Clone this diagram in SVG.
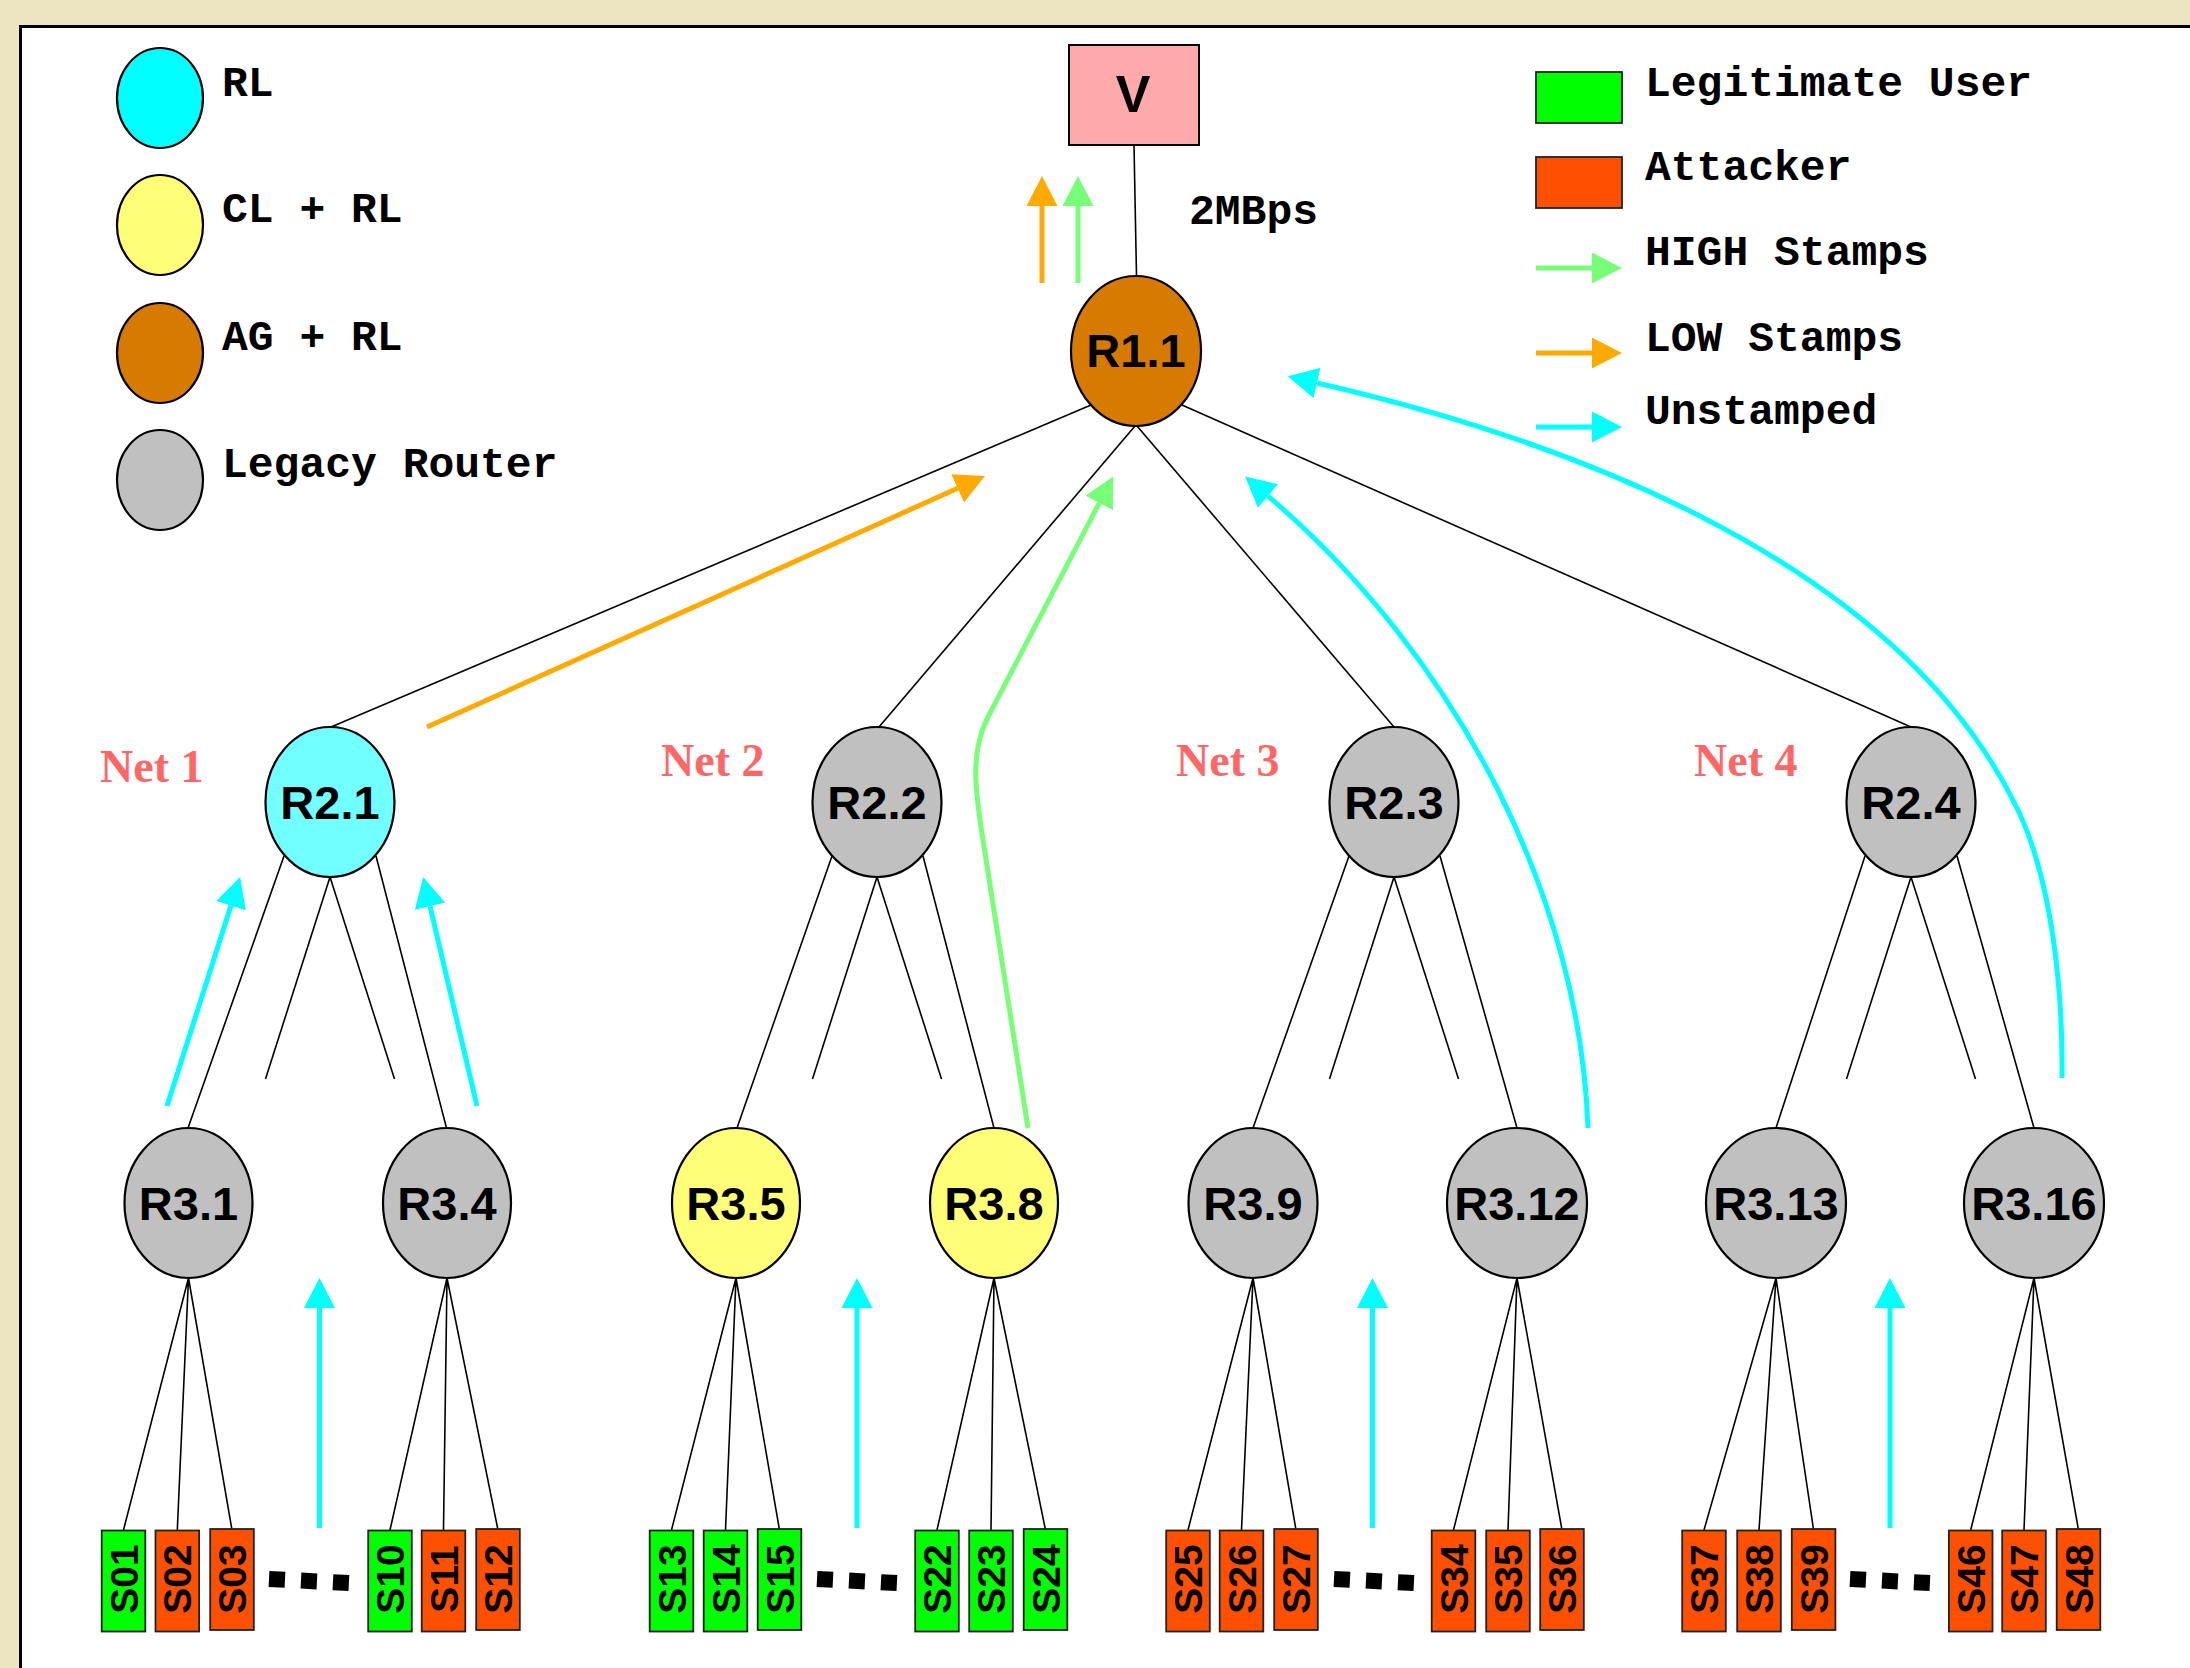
<svg xmlns="http://www.w3.org/2000/svg" width="2190" height="1668" viewBox="0 0 2190 1668">
<style>
.edge{stroke:#000;stroke-width:1.6;fill:none}
.nd{stroke:#000;stroke-width:2.2}
.gray{fill:#C0C0C0}.yel{fill:#FFFF77}.cyn{fill:#72FFFF}.brn{fill:#D67A00}
.lbl{font-family:"Liberation Sans",Arial,sans-serif;font-weight:bold;font-size:47px;text-anchor:middle;fill:#000}
.leg{font-family:"Liberation Mono","Courier New",monospace;font-weight:bold;font-size:43px;fill:#000}
.net{font-family:"Liberation Serif","Times New Roman",serif;font-weight:bold;font-size:46px;fill:#FF6666}
.box{stroke:#222;stroke-width:1.8}
.leg-g{fill:#00FF00}.leg-r{fill:#FF5000}
.lt{font-family:"Liberation Sans",Arial,sans-serif;font-weight:bold;font-size:39px;text-anchor:middle;fill:#000}
.ac{stroke:#00FFFF;stroke-width:5;fill:none}
.ag{stroke:#77FF77;stroke-width:5;fill:none}
.ao{stroke:#FFAA00;stroke-width:5;fill:none}
.dots{stroke:#000;stroke-width:16;stroke-dasharray:16 16;fill:none}
</style>
<defs>
<marker id="hc" markerUnits="userSpaceOnUse" viewBox="0 0 30 31" markerWidth="30" markerHeight="31" refX="0" refY="15.5" orient="auto"><path d="M0,0 L30,15.5 L0,31 z" fill="#00FFFF"/></marker>
<marker id="hg" markerUnits="userSpaceOnUse" viewBox="0 0 30 31" markerWidth="30" markerHeight="31" refX="0" refY="15.5" orient="auto"><path d="M0,0 L30,15.5 L0,31 z" fill="#77FF77"/></marker>
<marker id="ho" markerUnits="userSpaceOnUse" viewBox="0 0 30 31" markerWidth="30" markerHeight="31" refX="0" refY="15.5" orient="auto"><path d="M0,0 L30,15.5 L0,31 z" fill="#FFAA00"/></marker>
</defs>
<rect x="0" y="0" width="2190" height="1668" fill="#EDE4C2"/>
<rect x="20.5" y="26.5" width="2200" height="1700" fill="#FFFFFF" stroke="#000" stroke-width="3"/>

<g id="legend">
<ellipse class="nd" cx="160" cy="98" rx="43" ry="50" fill="#00FFFF"/>
<ellipse class="nd yel" cx="160" cy="225" rx="43" ry="50"/>
<ellipse class="nd brn" cx="160" cy="353" rx="43" ry="50"/>
<ellipse class="nd gray" cx="160" cy="480" rx="43" ry="50"/>
<text class="leg" x="222" y="96">RL</text>
<text class="leg" x="222" y="222">CL + RL</text>
<text class="leg" x="222" y="350">AG + RL</text>
<text class="leg" x="222" y="477">Legacy Router</text>
<rect class="box leg-g" x="1536" y="72" width="86" height="51"/>
<rect class="box leg-r" x="1536" y="157" width="86" height="51"/>
<line class="ag" x1="1536" y1="268" x2="1592" y2="268" marker-end="url(#hg)"/>
<line class="ao" x1="1536" y1="353" x2="1592" y2="353" marker-end="url(#ho)"/>
<line class="ac" x1="1536" y1="427" x2="1592" y2="427" marker-end="url(#hc)"/>
<text class="leg" x="1645" y="96">Legitimate User</text>
<text class="leg" x="1645" y="180">Attacker</text>
<text class="leg" x="1645" y="265">HIGH Stamps</text>
<text class="leg" x="1645" y="351">LOW Stamps</text>
<text class="leg" x="1645" y="424">Unstamped</text>
</g>

<g id="connectors">
<line class="edge" x1="1134" y1="145" x2="1136.5" y2="276"/>
<line class="edge" x1="1091" y1="405" x2="331" y2="727"/>
<line class="edge" x1="1135" y1="426" x2="879" y2="727"/>
<line class="edge" x1="1137" y1="426" x2="1394" y2="727"/>
<line class="edge" x1="1182" y1="405" x2="1911" y2="727"/>
<line class="edge" x1="284" y1="856" x2="188" y2="1128"/>
<line class="edge" x1="330" y1="877" x2="265.5" y2="1079"/>
<line class="edge" x1="330" y1="877" x2="394.5" y2="1079"/>
<line class="edge" x1="376" y1="856" x2="446.5" y2="1128"/>
<line class="edge" x1="832" y1="856" x2="737" y2="1128"/>
<line class="edge" x1="877" y1="877" x2="812.5" y2="1079"/>
<line class="edge" x1="877" y1="877" x2="941.5" y2="1079"/>
<line class="edge" x1="923" y1="856" x2="994" y2="1128"/>
<line class="edge" x1="1349" y1="856" x2="1253" y2="1128"/>
<line class="edge" x1="1394" y1="877" x2="1329.5" y2="1079"/>
<line class="edge" x1="1394" y1="877" x2="1458.5" y2="1079"/>
<line class="edge" x1="1440" y1="856" x2="1517" y2="1128"/>
<line class="edge" x1="1865" y1="856" x2="1776" y2="1128"/>
<line class="edge" x1="1911" y1="877" x2="1846.5" y2="1079"/>
<line class="edge" x1="1911" y1="877" x2="1975.5" y2="1079"/>
<line class="edge" x1="1957" y1="856" x2="2034" y2="1128"/>
<path class="edge" d="M188.5,1278 L123.5,1530 M188.5,1278 L177.3,1530 M188.5,1278 L232,1530"/>
<path class="edge" d="M447,1278 L390,1530 M447,1278 L443.5,1530 M447,1278 L498,1530"/>
<path class="edge" d="M736,1278 L671.5,1530 M736,1278 L725.5,1530 M736,1278 L779.5,1530"/>
<path class="edge" d="M994,1278 L937,1530 M994,1278 L991,1530 M994,1278 L1045.5,1530"/>
<path class="edge" d="M1253,1278 L1188,1530 M1253,1278 L1241.5,1530 M1253,1278 L1296,1530"/>
<path class="edge" d="M1517,1278 L1453.5,1530 M1517,1278 L1508,1530 M1517,1278 L1562,1530"/>
<path class="edge" d="M1776,1278 L1704,1530 M1776,1278 L1759,1530 M1776,1278 L1813.6,1530"/>
<path class="edge" d="M2034,1278 L1970.7,1530 M2034,1278 L2024,1530 M2034,1278 L2078.5,1530"/>
<line class="dots" x1="269" y1="1579" x2="349" y2="1583"/>
<line class="dots" x1="817" y1="1579" x2="897" y2="1583"/>
<line class="dots" x1="1334" y1="1579" x2="1414" y2="1583"/>
<line class="dots" x1="1850" y1="1579" x2="1930" y2="1583"/>
<line class="ao" x1="1042" y1="283" x2="1042" y2="206" marker-end="url(#ho)"/>
<line class="ag" x1="1078" y1="283" x2="1078" y2="206" marker-end="url(#hg)"/>
<line class="ao" x1="427" y1="727" x2="957.6" y2="488.3" marker-end="url(#ho)"/>
<path class="ag" d="M1028,1128 L983,840 C975,790 970,752 988,717 L1099.3,503" marker-end="url(#hg)"/>
<path class="ac" d="M1588,1128 C1580,900 1460,660 1268,496" marker-end="url(#hc)"/>
<path class="ac" d="M2062,1078 C2063,990 2052,880 2017,808 C1890,547 1531.5,432 1317,383" marker-end="url(#hc)"/>
<line class="ac" x1="167" y1="1106" x2="231" y2="905.6" marker-end="url(#hc)"/>
<line class="ac" x1="477" y1="1106" x2="430" y2="906.2" marker-end="url(#hc)"/>
<line class="ac" x1="319.5" y1="1528" x2="319.5" y2="1308" marker-end="url(#hc)"/>
<line class="ac" x1="857" y1="1528" x2="857" y2="1308" marker-end="url(#hc)"/>
<line class="ac" x1="1372.5" y1="1528" x2="1372.5" y2="1308" marker-end="url(#hc)"/>
<line class="ac" x1="1890" y1="1528" x2="1890" y2="1308" marker-end="url(#hc)"/>
</g>

<g id="V"><rect x="1069" y="45" width="130" height="100" fill="#FFAAAA" stroke="#000" stroke-width="2"/><text class="lbl" x="1133" y="112" style="font-size:52px">V</text></g>
<text class="leg" x="1189" y="224">2MBps</text>

<g id="R1.1"><ellipse class="nd brn" cx="1136" cy="351" rx="65" ry="75"/><text class="lbl" x="1136" y="367">R1.1</text></g>

<g id="R2.1"><ellipse class="nd cyn" cx="330" cy="802" rx="64.5" ry="75"/><text class="lbl" x="330" y="818.5">R2.1</text></g>
<g id="R2.2"><ellipse class="nd gray" cx="877" cy="802" rx="64.5" ry="75"/><text class="lbl" x="877" y="818.5">R2.2</text></g>
<g id="R2.3"><ellipse class="nd gray" cx="1394" cy="802" rx="64.5" ry="75"/><text class="lbl" x="1394" y="818.5">R2.3</text></g>
<g id="R2.4"><ellipse class="nd gray" cx="1911" cy="802" rx="64.5" ry="75"/><text class="lbl" x="1911" y="818.5">R2.4</text></g>

<text class="net" x="100" y="782">Net 1</text>
<text class="net" x="661" y="776">Net 2</text>
<text class="net" x="1176" y="776">Net 3</text>
<text class="net" x="1694" y="776">Net 4</text>

<g id="R3.1"><ellipse class="nd gray" cx="188.5" cy="1203" rx="64" ry="75"/><text class="lbl" x="188.5" y="1219.5">R3.1</text></g>
<g id="R3.4"><ellipse class="nd gray" cx="447" cy="1203" rx="64" ry="75"/><text class="lbl" x="447" y="1219.5">R3.4</text></g>
<g id="R3.5"><ellipse class="nd yel" cx="736" cy="1203" rx="64" ry="75"/><text class="lbl" x="736" y="1219.5">R3.5</text></g>
<g id="R3.8"><ellipse class="nd yel" cx="994" cy="1203" rx="64" ry="75"/><text class="lbl" x="994" y="1219.5">R3.8</text></g>
<g id="R3.9"><ellipse class="nd gray" cx="1253" cy="1203" rx="64.5" ry="75"/><text class="lbl" x="1253" y="1219.5">R3.9</text></g>
<g id="R3.12"><ellipse class="nd gray" cx="1517" cy="1203" rx="70" ry="75"/><text class="lbl" x="1517" y="1219.5">R3.12</text></g>
<g id="R3.13"><ellipse class="nd gray" cx="1776" cy="1203" rx="70" ry="75"/><text class="lbl" x="1776" y="1219.5">R3.13</text></g>
<g id="R3.16"><ellipse class="nd gray" cx="2034" cy="1203" rx="70" ry="75"/><text class="lbl" x="2034" y="1219.5">R3.16</text></g>

<g id="S01"><rect class="box leg-g" x="101.7" y="1530.5" width="43.6" height="101"/><text class="lt" transform="translate(137.5,1579) rotate(-90)">S01</text></g>
<g id="S02"><rect class="box leg-r" x="155.5" y="1530.5" width="43.6" height="101"/><text class="lt" transform="translate(191.3,1579) rotate(-90)">S02</text></g>
<g id="S03"><rect class="box leg-r" x="210.2" y="1529" width="43.6" height="101"/><text class="lt" transform="translate(246,1579) rotate(-90)">S03</text></g>
<g id="S10"><rect class="box leg-g" x="368.2" y="1530.5" width="43.6" height="101"/><text class="lt" transform="translate(404,1579) rotate(-90)">S10</text></g>
<g id="S11"><rect class="box leg-r" x="421.7" y="1530.5" width="43.6" height="101"/><text class="lt" transform="translate(457.5,1579) rotate(-90)">S11</text></g>
<g id="S12"><rect class="box leg-r" x="476.2" y="1529" width="43.6" height="101"/><text class="lt" transform="translate(512,1579) rotate(-90)">S12</text></g>
<g id="S13"><rect class="box leg-g" x="649.7" y="1530.5" width="43.6" height="101"/><text class="lt" transform="translate(685.5,1579) rotate(-90)">S13</text></g>
<g id="S14"><rect class="box leg-g" x="703.7" y="1530.5" width="43.6" height="101"/><text class="lt" transform="translate(739.5,1579) rotate(-90)">S14</text></g>
<g id="S15"><rect class="box leg-g" x="757.7" y="1529" width="43.6" height="101"/><text class="lt" transform="translate(793.5,1579) rotate(-90)">S15</text></g>
<g id="S22"><rect class="box leg-g" x="915.2" y="1530.5" width="43.6" height="101"/><text class="lt" transform="translate(951,1579) rotate(-90)">S22</text></g>
<g id="S23"><rect class="box leg-g" x="969.2" y="1530.5" width="43.6" height="101"/><text class="lt" transform="translate(1005,1579) rotate(-90)">S23</text></g>
<g id="S24"><rect class="box leg-g" x="1023.7" y="1529" width="43.6" height="101"/><text class="lt" transform="translate(1059.5,1579) rotate(-90)">S24</text></g>
<g id="S25"><rect class="box leg-r" x="1166.2" y="1530.5" width="43.6" height="101"/><text class="lt" transform="translate(1202,1579) rotate(-90)">S25</text></g>
<g id="S26"><rect class="box leg-r" x="1219.7" y="1530.5" width="43.6" height="101"/><text class="lt" transform="translate(1255.5,1579) rotate(-90)">S26</text></g>
<g id="S27"><rect class="box leg-r" x="1274.2" y="1529" width="43.6" height="101"/><text class="lt" transform="translate(1310,1579) rotate(-90)">S27</text></g>
<g id="S34"><rect class="box leg-r" x="1431.7" y="1530.5" width="43.6" height="101"/><text class="lt" transform="translate(1467.5,1579) rotate(-90)">S34</text></g>
<g id="S35"><rect class="box leg-r" x="1486.2" y="1530.5" width="43.6" height="101"/><text class="lt" transform="translate(1522,1579) rotate(-90)">S35</text></g>
<g id="S36"><rect class="box leg-r" x="1540.2" y="1529" width="43.6" height="101"/><text class="lt" transform="translate(1576,1579) rotate(-90)">S36</text></g>
<g id="S37"><rect class="box leg-r" x="1682.2" y="1530.5" width="43.6" height="101"/><text class="lt" transform="translate(1718,1579) rotate(-90)">S37</text></g>
<g id="S38"><rect class="box leg-r" x="1737.2" y="1530.5" width="43.6" height="101"/><text class="lt" transform="translate(1773,1579) rotate(-90)">S38</text></g>
<g id="S39"><rect class="box leg-r" x="1791.8" y="1529" width="43.6" height="101"/><text class="lt" transform="translate(1827.6,1579) rotate(-90)">S39</text></g>
<g id="S46"><rect class="box leg-r" x="1948.9" y="1530.5" width="43.6" height="101"/><text class="lt" transform="translate(1984.7,1579) rotate(-90)">S46</text></g>
<g id="S47"><rect class="box leg-r" x="2002.2" y="1530.5" width="43.6" height="101"/><text class="lt" transform="translate(2038,1579) rotate(-90)">S47</text></g>
<g id="S48"><rect class="box leg-r" x="2056.7" y="1529" width="43.6" height="101"/><text class="lt" transform="translate(2092.5,1579) rotate(-90)">S48</text></g>
</svg>
